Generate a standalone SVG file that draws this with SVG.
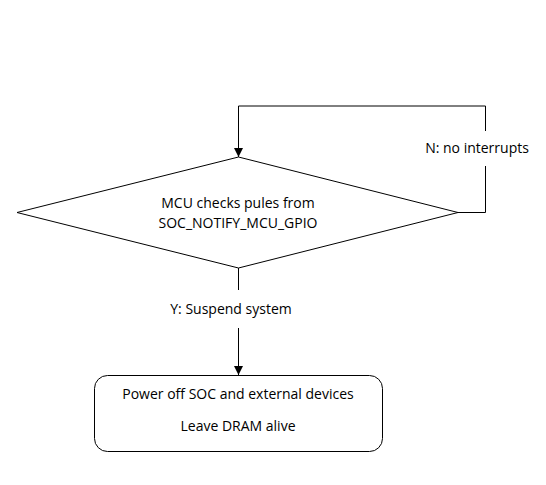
<svg xmlns="http://www.w3.org/2000/svg" width="546" height="485" viewBox="0 0 546 485">
<defs>
<style>
.ln{fill:none;stroke:#000;stroke-width:1}
.shape{fill:#fff;stroke:#000;stroke-width:1}
.t{font-family:"Open Sans","Noto Sans","Liberation Sans",sans-serif;font-size:14px;fill:#000;text-anchor:middle}
</style>
<marker id="arr" markerWidth="9" markerHeight="10" refX="9" refY="5" orient="auto" markerUnits="userSpaceOnUse">
<path d="M0,0.5 L9,5 L0,9.5 Z" fill="#000"/>
</marker>
</defs>
<rect width="546" height="485" fill="#fff"/>
<g id="connectors">
<path class="ln" d="M458,212.5 H485.5 V166"/>
<path class="ln" d="M485.5,131 V106 H238.5 V157" marker-end="url(#arr)"/>
<path class="ln" d="M238.5,268 V290"/>
<path class="ln" d="M238.5,328 V375" marker-end="url(#arr)"/>
<text class="t" x="477" y="153">N: no interrupts</text>
<text class="t" x="231" y="314">Y: Suspend system</text>
</g>
<g id="decision">
<polygon class="shape" points="238.5,157 458,212.5 238.5,268 17,212.5"/>
<text class="t" x="238" y="208">MCU checks pules from</text>
<text class="t" x="238" y="228">SOC_NOTIFY_MCU_GPIO</text>
</g>
<g id="suspend">
<rect class="shape" x="94.5" y="375.5" width="288" height="76" rx="13" ry="13"/>
<text class="t" x="238" y="399">Power off SOC and external devices</text>
<text class="t" x="238" y="431">Leave DRAM alive</text>
</g>
</svg>
